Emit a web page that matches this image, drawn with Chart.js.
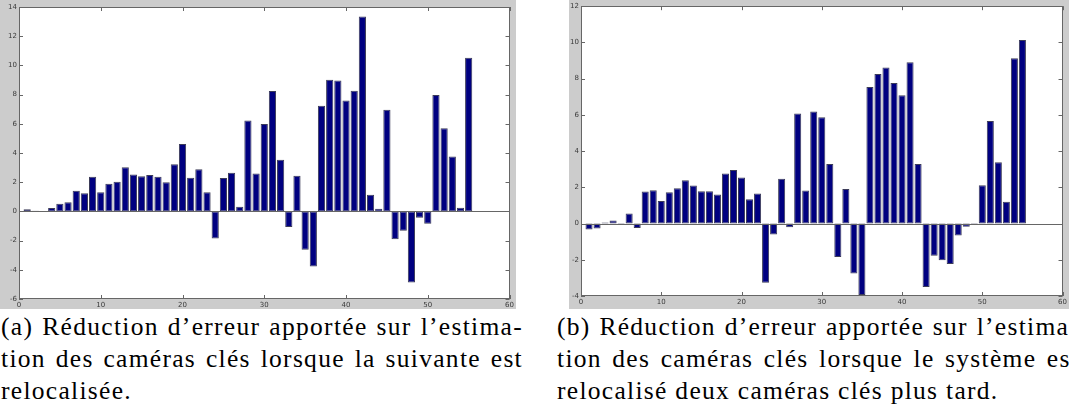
<!DOCTYPE html>
<html lang="fr">
<head>
<meta charset="utf-8">
<title>Réduction d’erreur sur l’estimation des caméras clés</title>
<script src="https://cdn.jsdelivr.net/npm/chart.js@4/dist/chart.umd.min.js"></script>
<style>
  html, body { margin: 0; padding: 0; background: #fff; }
  body { width: 1069px; height: 415px; position: relative; overflow: hidden; }
  .panel { position: absolute; top: 0; background: #cccccc; }
  .caption {
    position: absolute; top: 311px; width: 522px;
    font-family: "Liberation Serif", "DejaVu Serif", serif;
    font-size: 25.5px; line-height: 32px; letter-spacing: 1.3px; color: #000; white-space: nowrap;
  }
  .caption .j { text-align: justify; text-align-last: justify; white-space: normal; }
</style>
</head>
<body>
<canvas id="chartA" class="panel" width="516" height="309" style="left:0px"></canvas>
<canvas id="chartB" class="panel" width="500" height="309" style="left:569px"></canvas>

<div class="caption" style="left:1px">
  <div class="j">(a) Réduction d’erreur apportée sur l’estima-</div>
  <div class="j">tion des caméras clés lorsque la suivante est</div>
  <div>relocalisée.</div>
</div>
<div class="caption" style="left:557px">
  <div class="j">(b) Réduction d’erreur apportée sur l’estima-</div>
  <div class="j">tion des caméras clés lorsque le système est</div>
  <div>relocalisé deux caméras clés plus tard.</div>
</div>

<script>
// Key-frame indices (shared by both panels)
const keyFrames = [1, 2, 3, 4, 5, 6, 7, 8, 9, 10,
  11, 12, 13, 14, 15, 16, 17, 18, 19, 20,
  21, 22, 23, 24, 25, 26, 27, 28, 29, 30,
  31, 32, 33, 34, 35, 36, 37, 38, 39, 40,
  41, 42, 43, 44, 45, 46, 47, 48, 49, 50,
  51, 52, 53, 54, 55];

// (a) error reduction when the next key frame is relocalised
const reductionNext = [0.15, 0.05, 0.02, 0.23, 0.52, 0.62, 1.41, 1.25, 2.37, 1.32,
  1.89, 2.03, 3.03, 2.53, 2.41, 2.5, 2.37, 2.0, 3.23, 4.62,
  2.3, 2.89, 1.32, -1.85, 2.28, 2.64, 0.32, 6.22, 2.6, 5.99,
  8.25, 3.53, -1.07, 2.44, -2.62, -3.78, 7.24, 9.02, 8.97, 7.59,
  8.27, 13.35, 1.14, 0.18, 6.97, -1.91, -1.32, -4.87, -0.43, -0.84,
  7.97, 5.69, 3.76, 0.25, 10.52];

// (b) error reduction when relocalised two key frames later
const reductionTwoLater = [-0.33, -0.28, 0.06, 0.17, -0.07, 0.55, -0.24, 1.77, 1.84, 1.25,
  1.73, 1.95, 2.39, 2.1, 1.78, 1.78, 1.6, 2.76, 2.96, 2.54,
  1.34, 1.66, -3.27, -0.61, 2.48, -0.2, 6.07, 1.82, 6.18, 5.87,
  3.29, -1.84, 1.91, -2.76, -3.94, 7.54, 8.26, 8.61, 7.76, 7.08,
  8.9, 3.29, -3.51, -1.78, -2.02, -2.24, -0.66, -0.17, -0.06, 2.11,
  5.66, 3.38, 1.21, 9.12, 10.13];

// Axis tick values
const xTickValues = [0, 10, 20, 30, 40, 50, 60];
const yTicksA = [-6, -4, -2, 0, 2, 4, 6, 8, 10, 12, 14];
const yTicksB = [-4, -2, 0, 2, 4, 6, 8, 10, 12];

const LINE = '#666666';
const LABEL = '#3a3a3a';

// White plot box, framed, with inward ticks on all four sides and a baseline at 0
const boxPlugin = {
  id: 'box',
  beforeDraw(chart) {
    const { ctx, chartArea: a } = chart;
    ctx.save();
    ctx.fillStyle = '#ffffff';
    ctx.fillRect(a.left, a.top, a.right - a.left, a.bottom - a.top);
    ctx.restore();
  },
  afterDatasetsDraw(chart) {
    const { ctx, chartArea: a, scales } = chart;
    const xs = scales.x, ys = scales.y;
    const len = 4;
    ctx.save();
    ctx.strokeStyle = LINE;
    ctx.lineWidth = 1;
    ctx.beginPath();
    // baseline
    const y0 = Math.round(ys.getPixelForValue(0)) + 0.5;
    ctx.moveTo(a.left, y0); ctx.lineTo(a.right, y0);
    // x ticks, bottom and top
    xTickValues.forEach(v => {
      const px = Math.round(xs.getPixelForValue(v)) + 0.5;
      ctx.moveTo(px, a.bottom); ctx.lineTo(px, a.bottom - len);
      ctx.moveTo(px, a.top); ctx.lineTo(px, a.top + len);
    });
    // y ticks, left and right
    chart.options.yTickValues.forEach(v => {
      const py = Math.round(ys.getPixelForValue(v)) + 0.5;
      ctx.moveTo(a.left, py); ctx.lineTo(a.left + len, py);
      ctx.moveTo(a.right, py); ctx.lineTo(a.right - len, py);
    });
    ctx.stroke();
    ctx.strokeRect(Math.round(a.left) + 0.5, Math.round(a.top) + 0.5,
      Math.round(a.right - a.left) - 1, Math.round(a.bottom - a.top) - 1);
    ctx.restore();
  }
};

function makeChart(id, values, yTicks, geom) {
  const points = keyFrames.map((k, i) => ({ x: k, y: values[i] }));
  return new Chart(document.getElementById(id), {
    type: 'bar',
    data: {
      datasets: [{
        data: points,
        backgroundColor: '#000080',
        borderColor: '#3c3c58',
        borderWidth: 1,
        borderSkipped: false,
        categoryPercentage: 1.0,
        barPercentage: 0.88
      }]
    },
    plugins: [boxPlugin],
    options: {
      yTickValues: yTicks,
      responsive: false,
      animation: false,
      events: [],
      layout: { padding: { top: geom.top, right: geom.right, left: 0, bottom: 0 } },
      plugins: { legend: { display: false }, tooltip: { enabled: false } },
      scales: {
        x: {
          type: 'linear', min: 0, max: 60, offset: false,
          afterBuildTicks(s) { s.ticks = xTickValues.map(v => ({ value: v })); },
          afterFit(s) { s.height = geom.xHeight; },
          grid: { display: false, drawTicks: false, offset: false },
          border: { display: false },
          ticks: { autoSkip: false, maxRotation: 0, padding: 2, color: LABEL,
                   font: { family: 'DejaVu Sans', size: 7 } }
        },
        y: {
          min: yTicks[0], max: yTicks[yTicks.length - 1],
          afterBuildTicks(s) { s.ticks = yTicks.map(v => ({ value: v })); },
          afterFit(s) { s.width = geom.yWidth; },
          grid: { display: false, drawTicks: false },
          border: { display: false },
          ticks: { autoSkip: false, padding: 2, color: LABEL,
                   font: { family: 'DejaVu Sans', size: 7 } }
        }
      }
    }
  });
}

makeChart('chartA', reductionNext, yTicksA, { top: 7, right: 5, yWidth: 19, xHeight: 10 });
makeChart('chartB', reductionTwoLater, yTicksB, { top: 6, right: 1, yWidth: 12, xHeight: 13 });
</script>
</body>
</html>
